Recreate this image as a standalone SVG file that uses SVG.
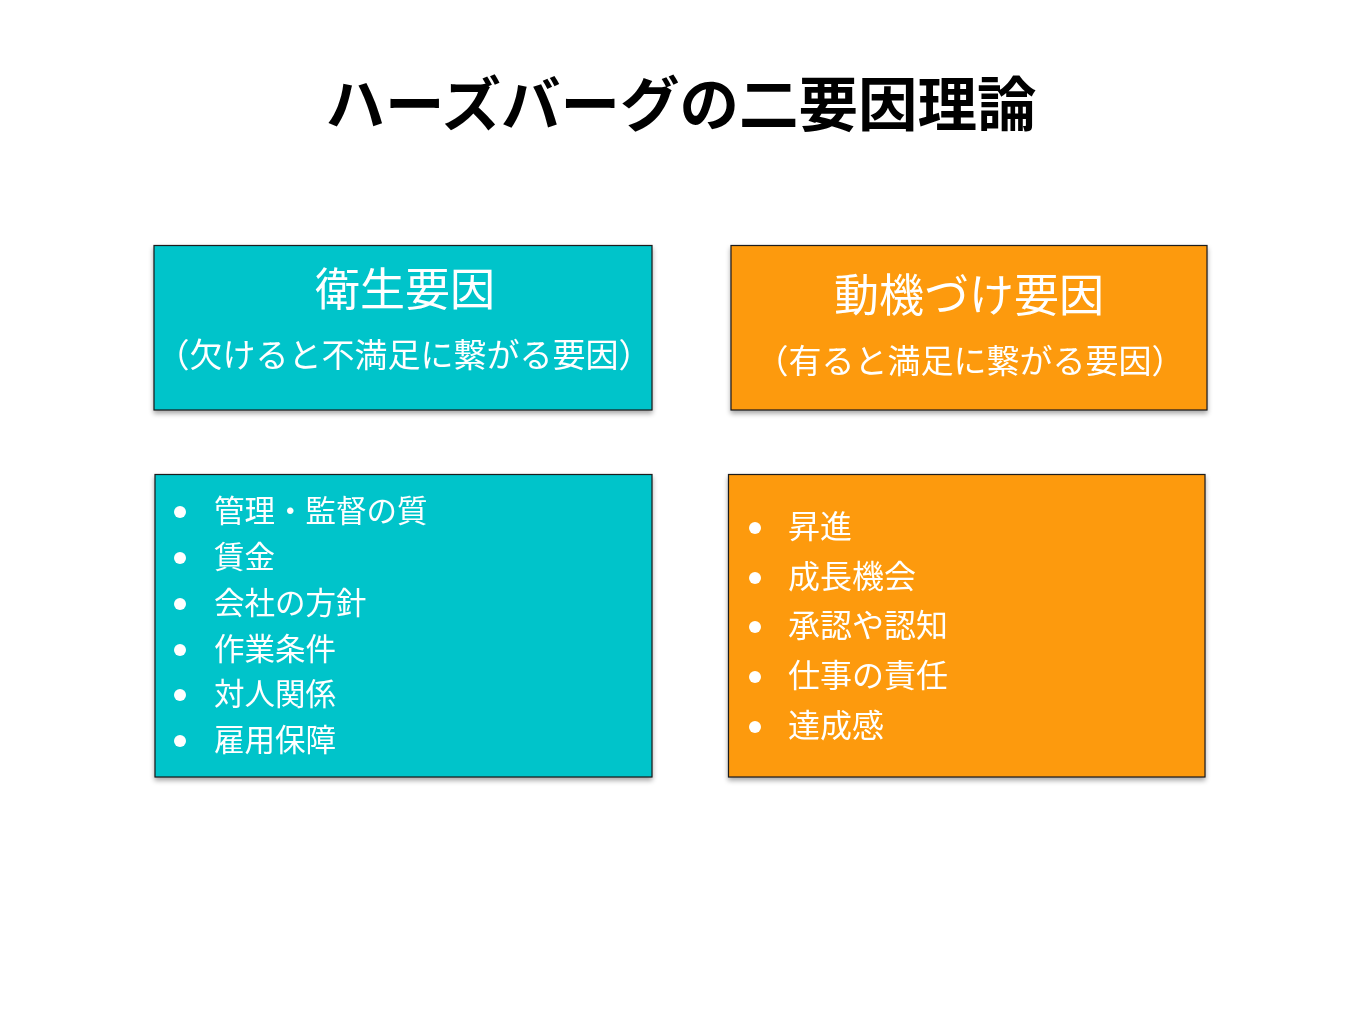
<svg xmlns="http://www.w3.org/2000/svg" width="1360" height="1021" viewBox="0 0 1360 1021">
<defs>
<filter id="sh" x="-5%" y="-5%" width="110%" height="115%">
<feGaussianBlur in="SourceAlpha" stdDeviation="2.5"/>
<feOffset dx="0" dy="3" result="b"/>
<feComponentTransfer><feFuncA type="linear" slope="0.35"/></feComponentTransfer>
<feMerge><feMergeNode/><feMergeNode in="SourceGraphic"/></feMerge>
</filter>
</defs>
<style>
.t{font-family:"Noto Sans CJK JP","Noto Sans CJK SC",sans-serif;fill:#fff}
.teal{fill:#05C4CA;stroke:#1a1a1a;stroke-width:1.2}
.orng{fill:#FD9A08;stroke:#1a1a1a;stroke-width:1.2}
.h{font-size:45px;text-anchor:middle}
.s{font-size:33px;text-anchor:middle}
.l{font-size:30.5px}
.r{font-size:32px}
.dot{fill:#fff}
</style>
<rect width="1360" height="1021" fill="#fff"/>
<text x="681" y="126" font-family="Noto Sans CJK JP, sans-serif" font-weight="bold" font-size="59.5" text-anchor="middle" fill="#000">ハーズバーグの二要因理論</text>
<g id="hygiene-header" filter="url(#sh)">
<rect class="teal" x="154" y="245.5" width="498" height="164.5"/>
<text class="t h" x="405" y="306">衛生要因</text>
<text class="t s" x="404" y="367">（欠けると不満足に繋がる要因）</text>
</g>
<g id="motivation-header" filter="url(#sh)">
<rect class="orng" x="731" y="245.5" width="476" height="164.5"/>
<text class="t h" x="969" y="312">動機づけ要因</text>
<text class="t s" x="970" y="373">（有ると満足に繋がる要因）</text>
</g>
<g id="hygiene-list" filter="url(#sh)">
<rect class="teal" x="155" y="474.5" width="497" height="302.5"/>
<circle class="dot" cx="180" cy="512" r="6"/>
<circle class="dot" cx="180" cy="558" r="6"/>
<circle class="dot" cx="180" cy="604" r="6"/>
<circle class="dot" cx="180" cy="650" r="6"/>
<circle class="dot" cx="180" cy="695" r="6"/>
<circle class="dot" cx="180" cy="741" r="6"/>
<text class="t l" x="214" y="522">管理・監督の質</text>
<text class="t l" x="214" y="568">賃金</text>
<text class="t l" x="214" y="614">会社の方針</text>
<text class="t l" x="214" y="660">作業条件</text>
<text class="t l" x="214" y="705">対人関係</text>
<text class="t l" x="214" y="751">雇用保障</text>
</g>
<g id="motivation-list" filter="url(#sh)">
<rect class="orng" x="728.5" y="474.5" width="476.5" height="302.5"/>
<circle class="dot" cx="755" cy="528" r="6"/>
<circle class="dot" cx="755" cy="578" r="6"/>
<circle class="dot" cx="755" cy="627" r="6"/>
<circle class="dot" cx="755" cy="677" r="6"/>
<circle class="dot" cx="755" cy="727" r="6"/>
<text class="t r" x="788" y="538">昇進</text>
<text class="t r" x="788" y="588">成長機会</text>
<text class="t r" x="788" y="637">承認や認知</text>
<text class="t r" x="788" y="687">仕事の責任</text>
<text class="t r" x="788" y="737">達成感</text>
</g>
<g id="connectors"></g>
</svg>
